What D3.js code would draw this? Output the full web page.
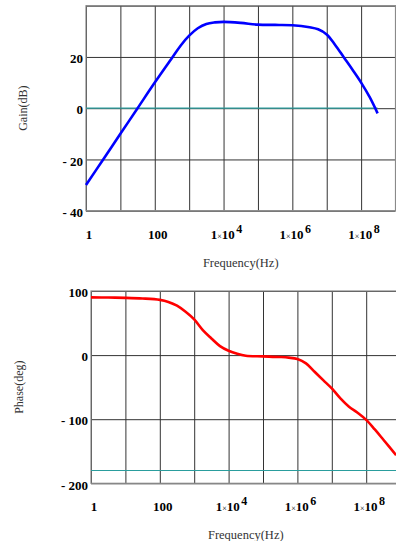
<!DOCTYPE html>
<html>
<head>
<meta charset="utf-8">
<script src="https://cdn.jsdelivr.net/npm/d3@7"></script>
<style>
  body { margin: 0; background: #fff; }
  svg { display: block; }
</style>
</head>
<body>
<div id="chart"></div>
<script>
// frequency as decade exponent (10^e Hz)
const gainExp = [0, 0.5, 1, 1.5, 2, 2.5, 2.75, 3, 3.25, 3.5, 3.75, 4, 4.5, 5, 5.5, 6, 6.5, 6.75, 7, 7.25, 7.5, 7.75, 8, 8.25, 8.48];
const gainDb  = [-30, -20, -10, 0, 10, 19.6, 24.4, 28.3, 31.2, 32.9, 33.5, 33.7, 33.3, 32.6, 32.5, 32.4, 31.6, 30.8, 28.8, 24.6, 19.8, 15, 10, 4.3, -2];

const phaseExp = [0, 0.5, 1, 1.5, 2, 2.25, 2.5, 2.75, 3, 3.25, 3.5, 3.75, 4, 4.25, 4.5, 5, 5.5, 5.75, 6, 6.25, 6.5, 6.75, 7, 7.25, 7.5, 7.75, 8, 8.25, 8.5, 8.87];
const phaseDeg = [90, 89.8, 89.3, 88.3, 86.2, 83, 77, 67.5, 55.6, 39, 26, 14, 6.7, 2, -1, -2, -3, -4, -6.2, -13, -26, -39, -52, -67.5, -80.5, -90, -101, -116, -132, -156];

const decadeTicks = [1, 10, 100, 1e3, 1e4, 1e5, 1e6, 1e7, 1e8, 1e9];
const freqLabelExp = [0, 2, 4, 6, 8];
const gainTicks = [20, 0, -20, -40];
const gainGrid = [40, 20, 0, -20, -40];
const phaseTicks = [100, 0, -100, -200];
const phaseGrid = [100, 0, -100, -200];
const gainRef = 0;
const phaseRef = -180;

const W = 396, H = 541;
const svg = d3.select('#chart').append('svg')
  .attr('width', W)
  .attr('height', H);

const serif = '"Liberation Serif", "Times New Roman", serif';

function drawPlot(opts) {
  let x = d3.scaleLog().domain([1, 1e9]).range([opts.left, opts.right]);
  let y = d3.scaleLinear().domain(opts.yDomain).range([opts.bottom, opts.top]);
  let g = svg.append('g');

  // vertical grid, one per decade
  g.append('g')
    .attr('transform', 'translate(0,' + opts.bottom + ')')
    .call(d3.axisBottom(x).tickValues(decadeTicks).tickSize(-(opts.bottom - opts.top)).tickFormat(''))
    .call(s => s.select('.domain').remove())
    .selectAll('line').attr('stroke', '#333');

  // horizontal grid
  g.append('g')
    .attr('transform', 'translate(' + opts.left + ',0)')
    .call(d3.axisLeft(y).tickValues(opts.grid).tickSize(-(opts.right - opts.left)).tickFormat(''))
    .call(s => s.select('.domain').remove())
    .selectAll('line').attr('stroke', '#333');

  // frame
  g.append('rect')
    .attr('x', opts.left).attr('y', opts.top)
    .attr('width', opts.right - opts.left).attr('height', opts.bottom - opts.top)
    .attr('fill', 'none').attr('stroke', '#8a8a8a').attr('stroke-width', 1.2);

  // reference trace
  g.append('line')
    .attr('x1', x(opts.refFrom)).attr('x2', x(opts.refTo))
    .attr('y1', y(opts.ref)).attr('y2', y(opts.ref))
    .attr('stroke', '#2a9d9d').attr('stroke-width', 1.2);

  // curve
  let pts = opts.xs.map((e, i) => [Math.pow(10, e), opts.ys[i]]);
  let line = d3.line()
    .x(d => x(d[0]))
    .y(d => y(d[1]))
    .curve(d3.curveCatmullRom.alpha(0.5));
  g.append('path')
    .datum(pts)
    .attr('d', line)
    .attr('fill', 'none')
    .attr('stroke', opts.color)
    .attr('stroke-width', 2.6)
    .attr('stroke-linejoin', 'round');

  // y tick labels
  g.selectAll('.ylab')
    .data(opts.ticks)
    .enter()
    .append('text')
    .attr('x', opts.left - 3)
    .attr('y', d => y(d))
    .attr('dy', '0.48em')
    .attr('text-anchor', 'end')
    .attr('font-family', serif)
    .attr('font-weight', 'bold')
    .attr('font-size', 13)
    .text(d => d < 0 ? '- ' + Math.abs(d) : String(d));

  // x tick labels
  let xl = g.selectAll('.xlab')
    .data(freqLabelExp)
    .enter()
    .append('text')
    .attr('x', d => x(Math.pow(10, d)) + 3)
    .attr('y', opts.bottom + 28)
    .attr('text-anchor', 'middle')
    .attr('font-family', serif)
    .attr('font-weight', 'bold')
    .attr('font-size', 13);
  xl.each(function (d) {
    let t = d3.select(this);
    if (d === 0) { t.text('1'); return; }
    if (d === 2) { t.text('100'); return; }
    t.append('tspan').text('1');
    t.append('tspan').attr('font-size', 8).attr('font-weight', 'normal').text('\u00d7');
    t.append('tspan').text('10');
    t.append('tspan').attr('font-size', 12).attr('dy', -6).attr('dx', 1.5).text(String(d));
  });

  // axis titles
  g.append('text')
    .attr('x', (opts.left + opts.right) / 2)
    .attr('y', opts.bottom + 56)
    .attr('text-anchor', 'middle')
    .attr('font-family', serif)
    .attr('font-size', 12.5)
    .attr('fill', '#333')
    .text('Frequency(Hz)');

  g.append('text')
    .attr('transform', 'translate(' + opts.titleX + ',' + ((opts.top + opts.bottom) / 2) + ') rotate(-90)')
    .attr('text-anchor', 'middle')
    .attr('font-family', serif)
    .attr('font-size', 12)
    .attr('fill', '#333')
    .text(opts.yTitle);
}

drawPlot({
  left: 86, right: 395.5, top: 5.7, bottom: 210.7,
  yDomain: [-40, 40], grid: gainGrid, ticks: gainTicks,
  xs: gainExp, ys: gainDb, color: '#0000ff',
  ref: gainRef, refFrom: 1, refTo: Math.pow(10, gainExp[gainExp.length - 1]),
  yTitle: 'Gain(dB)', titleX: 27
});

drawPlot({
  left: 91, right: 400.6, top: 291, bottom: 483.3,
  yDomain: [-200, 100], grid: phaseGrid, ticks: phaseTicks,
  xs: phaseExp, ys: phaseDeg, color: '#ff0000',
  ref: phaseRef, refFrom: 1, refTo: 1e9,
  yTitle: 'Phase(deg)', titleX: 23
});
</script>
</body>
</html>
